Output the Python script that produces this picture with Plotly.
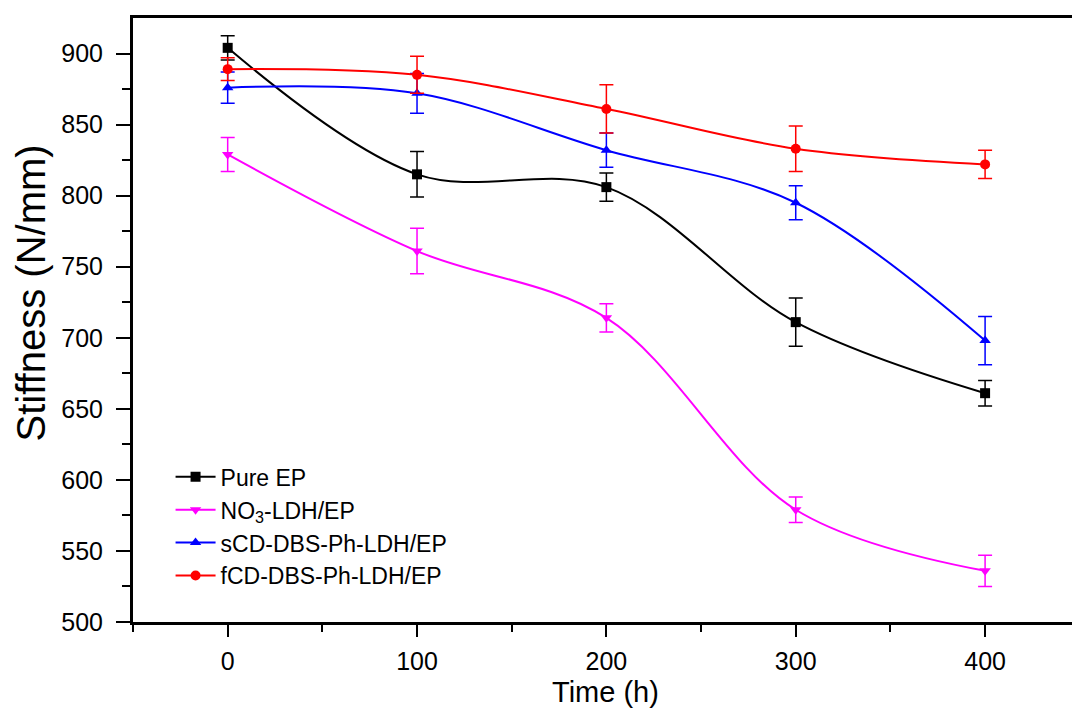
import plotly.graph_objects as go

# Immersion time (h)
time_h = [0, 100, 200, 300, 400]

# Stiffness (N/mm) and standard deviations for each coating
pure_ep = [904, 815, 806, 711, 661]
pure_ep_err = [8.5, 16, 10, 17, 9]

no3_ldh = [829, 761, 714, 579, 536]
no3_ldh_err = [12, 16, 10, 9, 11]

scd_ldh = [876, 872, 832, 795, 698]
scd_ldh_err = [11, 14, 12, 12, 17]

fcd_ldh = [889, 885, 861, 833, 822]
fcd_ldh_err = [8, 13, 17, 16, 10]

series = [
    ("Pure EP", pure_ep, pure_ep_err, "#000000", "square"),
    ("NO<sub>3</sub>-LDH/EP", no3_ldh, no3_ldh_err, "#FF00FF", "triangle-down"),
    ("sCD-DBS-Ph-LDH/EP", scd_ldh, scd_ldh_err, "#0000FF", "triangle-up"),
    ("fCD-DBS-Ph-LDH/EP", fcd_ldh, fcd_ldh_err, "#FF0000", "circle"),
]

fig = go.Figure()
for name, vals, errs, color, symbol in series:
    fig.add_trace(go.Scatter(
        x=time_h, y=vals, name=name, mode="lines+markers",
        line=dict(color=color, width=2, shape="spline", smoothing=1.0),
        marker=dict(symbol=symbol, size=10, color=color),
        error_y=dict(type="data", array=errs, visible=True,
                     color=color, thickness=1.5, width=7),
    ))

font_family = "Liberation Sans, Arial, sans-serif"

fig.update_layout(
    width=1072, height=711,
    margin=dict(l=133, r=0, t=18, b=89),
    paper_bgcolor="white", plot_bgcolor="white",
    font=dict(family=font_family, color="black", size=22),
    showlegend=True,
    legend=dict(
        x=0.04, y=0.276, xanchor="left", yanchor="top",
        bgcolor="rgba(0,0,0,0)", borderwidth=0,
        font=dict(size=23, family=font_family),
        itemwidth=40, tracegroupgap=0,
    ),
)

# Y-axis title placed as a rotated annotation beside the tick labels
fig.add_annotation(
    text="Stiffness (N/mm)", textangle=-90,
    xref="paper", yref="paper", x=-0.109, y=0.545,
    xanchor="center", yanchor="middle", showarrow=False,
    font=dict(size=40, family=font_family, color="black"),
)

# X-axis title as an annotation below the tick labels
fig.add_annotation(
    text="Time (h)",
    xref="paper", yref="paper", x=0.503, y=-0.1455,
    xanchor="center", yanchor="bottom", showarrow=False,
    font=dict(size=29, family=font_family, color="black"),
)

fig.update_xaxes(
    range=[-50, 445.9],
    tickvals=[0, 100, 200, 300, 400],
    ticks="outside", ticklen=12, tickwidth=2, tickcolor="black",
    ticklabelstandoff=3,
    minor=dict(ticks="outside", ticklen=7, tickwidth=2, tickcolor="black",
               tickvals=[-50, 50, 150, 250, 350]),
    showline=True, linewidth=3, linecolor="black", mirror=True,
    showgrid=False, zeroline=False,
    tickfont=dict(size=25),
)

fig.update_yaxes(
    range=[500, 925],
    tickvals=[500, 550, 600, 650, 700, 750, 800, 850, 900],
    ticks="outside", ticklen=14, tickwidth=2, tickcolor="black",
    ticklabelstandoff=8,
    minor=dict(ticks="outside", ticklen=8, tickwidth=2, tickcolor="black",
               tickvals=[525, 575, 625, 675, 725, 775, 825, 875]),
    showline=True, linewidth=3, linecolor="black", mirror=False,
    showgrid=False, zeroline=False,
    tickfont=dict(size=25),
)

fig.write_html("out.html")
